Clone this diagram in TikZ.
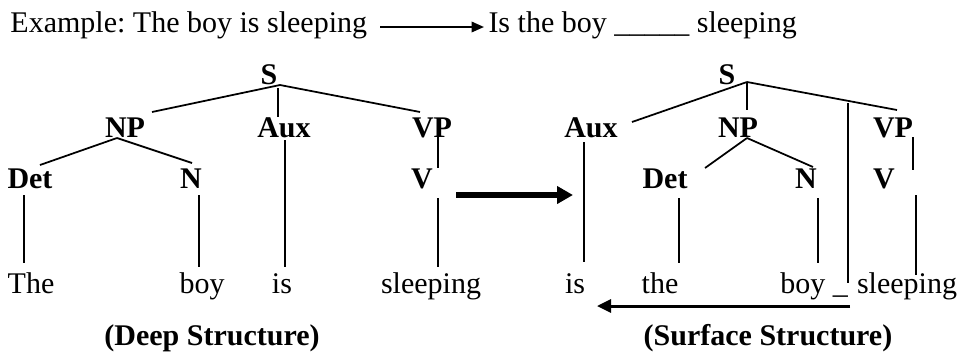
\documentclass[tikz,border=0pt]{standalone}
\usepackage{fontspec}
\setmainfont{Liberation Serif}
\usetikzlibrary{arrows.meta}
\frenchspacing
\begin{document}
\begin{tikzpicture}[x=0.4pt,y=-0.4pt,
  txt/.style={inner sep=0pt,anchor=base,font=\fontsize{12}{14}\selectfont},
  lab/.style={inner sep=0pt,anchor=base,font=\fontsize{12}{14}\selectfont\bfseries},
  edge/.style={line width=0.7pt},
  bigarrow/.style={line width=2.2pt,-{Triangle[length=6.4pt,width=6.8pt]}},
  midarrow/.style={line width=1.2pt,-{Triangle[length=5.6pt,width=5.2pt]}},
  smallarrow/.style={line width=0.8pt,-{Triangle[length=5pt,width=4.2pt]}}
]
\useasboundingbox (0,0) rectangle (959,354);

% top line
\node[txt,anchor=base west] (ex) at (10,32) {Example: The boy is sleeping};
\node[txt,anchor=base west] (q) at (488,32) {Is the boy \_\_\_\_\_ sleeping};
\coordinate (exend) at (380,27);
\coordinate (qstart) at (484,27);
\draw[smallarrow] (exend) -- (qstart);

% ---------- Deep structure (left) ----------
\node[lab] (S1) at (269,84) {S};
\node[lab] (NP1) at (125,137) {NP};
\node[lab] (Aux1) at (284,137) {Aux};
\node[lab] (VP1) at (432,137) {VP};
\node[lab] (Det1) at (30,188) {Det};
\node[lab] (N1) at (191,188) {N};
\node[lab] (V1) at (422,188) {V};
\node[txt] (The1) at (31,293) {The};
\node[txt] (boy1) at (202,293) {boy};
\node[txt] (is1) at (282,293) {is};
\node[txt] (sl1) at (431,293) {sleeping};
\node[lab] (deep) at (212,345) {(Deep Structure)};

\coordinate (s1apex) at (280,85);
\coordinate (s1v) at (278,88);
\coordinate (np1top) at (152,112);
\coordinate (vp1top) at (420,112);
\coordinate (aux1top) at (278,117);
\coordinate (np1bot) at (117,138);
\coordinate (det1top) at (40,165);
\coordinate (n1top) at (192,163);
\coordinate (vp1bot) at (438,135);
\coordinate (v1top) at (438,168);
\coordinate (det1bot) at (24,195);
\coordinate (the1top) at (24,263);
\coordinate (n1bot) at (199,195);
\coordinate (boy1top) at (199,267);
\coordinate (aux1bot) at (285,140);
\coordinate (is1top) at (285,267);
\coordinate (v1bot) at (438,198);
\coordinate (sl1top) at (438,267);

\draw[edge] (s1apex) -- (np1top);
\draw[edge] (s1apex) -- (vp1top);
\draw[edge] (s1v) -- (aux1top);
\draw[edge] (np1bot) -- (det1top);
\draw[edge] (np1bot) -- (n1top);
\draw[edge] (vp1bot) -- (v1top);
\draw[edge] (det1bot) -- (the1top);
\draw[edge] (n1bot) -- (boy1top);
\draw[edge] (aux1bot) -- (is1top);
\draw[edge] (v1bot) -- (sl1top);

% middle arrow
\coordinate (mA) at (456,195);
\coordinate (mB) at (573,195);
\draw[bigarrow] (mA) -- (mB);

% ---------- Surface structure (right) ----------
\node[lab] (S2) at (727,84) {S};
\node[lab] (Aux2) at (591,137) {Aux};
\node[lab] (NP2) at (738,137) {NP};
\node[lab] (VP2) at (893,137) {VP};
\node[lab] (Det2) at (665,188) {Det};
\node[lab] (N2) at (806,188) {N};
\node[lab] (V2) at (884,188) {V};
\node[txt] (is2) at (575,293) {is};
\node[txt] (the2) at (660,293) {the};
\node[txt] (boy2) at (814,293) {boy \_};
\node[txt] (sl2) at (907,293) {sleeping};
\node[lab] (surf) at (768,345) {(Surface Structure)};

\coordinate (s2apex) at (747,82);
\coordinate (aux2top) at (632,122);
\coordinate (vp2top) at (897,110);
\coordinate (np2top) at (747,110);
\coordinate (longtop) at (848,103);
\coordinate (longbot) at (848,283);
\coordinate (aux2bot) at (584,142);
\coordinate (is2top) at (584,262);
\coordinate (np2bot) at (747,138);
\coordinate (det2top) at (705,168);
\coordinate (n2top) at (813,167);
\coordinate (vp2bot) at (913,137);
\coordinate (v2top) at (913,170);
\coordinate (v2bot) at (916,195);
\coordinate (sl2top) at (916,275);
\coordinate (det2bot) at (679,198);
\coordinate (the2top) at (679,263);
\coordinate (n2bot) at (818,198);
\coordinate (boy2top) at (818,263);

\draw[edge] (s2apex) -- (aux2top);
\draw[edge] (s2apex) -- (vp2top);
\draw[edge] (s2apex) -- (np2top);
\draw[edge] (longtop) -- (longbot);
\draw[edge] (aux2bot) -- (is2top);
\draw[edge] (np2bot) -- (det2top);
\draw[edge] (np2bot) -- (n2top);
\draw[edge] (vp2bot) -- (v2top);
\draw[edge] (v2bot) -- (sl2top);
\draw[edge] (det2bot) -- (the2top);
\draw[edge] (n2bot) -- (boy2top);

% bottom arrow
\coordinate (bA) at (850,306);
\coordinate (bB) at (597,306);
\draw[midarrow] (bA) -- (bB);
\end{tikzpicture}
\end{document}
